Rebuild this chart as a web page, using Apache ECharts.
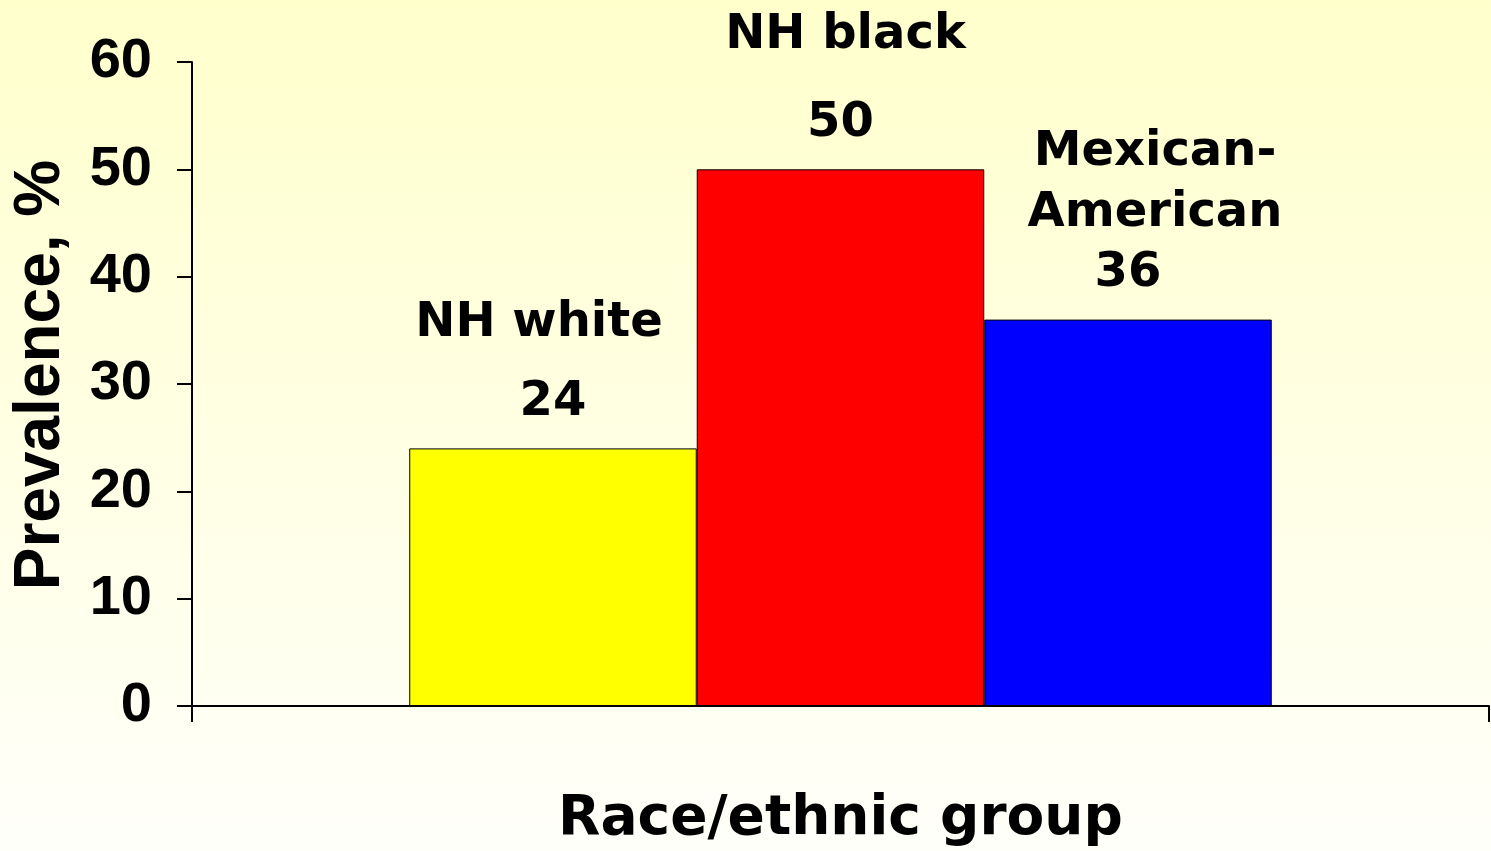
<!DOCTYPE html>
<html>
<head>
<meta charset="utf-8">
<script src="https://cdn.jsdelivr.net/npm/echarts@6/dist/echarts.min.js"></script>
<style>
html,body{margin:0;padding:0;}
#chart{width:1491px;height:851px;}
</style>
</head>
<body>
<div id="chart"></div>
<script>
var categories = ['Race/ethnic group'];
var seriesNames = ['NH white', 'NH black', 'Mexican-\nAmerican'];
var seriesValues = [[24], [50], [36]];
var seriesColors = ['#FFFF00', '#FF0000', '#0000FF'];
var yTicks = [0, 10, 20, 30, 40, 50, 60];

var labelFont = 'DejaVu Sans';
var tickFont = "'Liberation Sans', Arial, sans-serif";

// per-series label tweaks: [name lineHeight, name padding]
var labelTweaks = [
  {lh: 98, pad: [0, 28, 0, 0]},
  {lh: 116, pad: [0, 0, 0, 10]},
  {lh: 61, pad: [0, 0, 0, 54]}
];

var chart = echarts.init(document.getElementById('chart'));
var series = seriesNames.map(function (name, i) {
  return {
    name: name,
    type: 'bar',
    data: seriesValues[i],
    barGap: '0%',
    barCategoryGap: '33.5%',
    itemStyle: {color: seriesColors[i], borderColor: '#000', borderWidth: 1},
    label: {
      show: true,
      position: 'top',
      distance: 16,
      formatter: function (p) {
        return p.seriesName.split('\n').map(function (s) { return '{n|' + s + '}'; }).join('\n') + '\n{v|' + p.value + '}';
      },
      rich: {
        n: {fontFamily: labelFont, fontWeight: 'bold', fontSize: 48, color: '#000', lineHeight: labelTweaks[i].lh, padding: labelTweaks[i].pad},
        v: {fontFamily: labelFont, fontWeight: 'bold', fontSize: 48, color: '#000', lineHeight: 60}
      }
    }
  };
});

chart.setOption({
  backgroundColor: new echarts.graphic.LinearGradient(0, 0, 0, 1, [
    {offset: 0, color: '#FFFFCC'},
    {offset: 1, color: '#FFFFFA'}
  ]),
  animation: false,
  grid: {left: 192, right: 2, top: 62, bottom: 145, containLabel: false, outerBoundsMode: 'none'},
  xAxis: {
    type: 'category',
    data: categories,
    boundaryGap: true,
    name: categories[0],
    nameLocation: 'middle',
    nameGap: 86,
    nameTextStyle: {fontFamily: labelFont, fontWeight: 'bold', fontSize: 55, color: '#000'},
    axisLine: {lineStyle: {color: '#000', width: 2}},
    axisTick: {show: true, length: 16, lineStyle: {color: '#000', width: 2}},
    axisLabel: {show: false},
    splitLine: {show: false}
  },
  yAxis: {
    type: 'value',
    min: yTicks[0],
    max: yTicks[yTicks.length - 1],
    interval: 10,
    name: 'Prevalence, %',
    nameLocation: 'middle',
    nameRotate: 90,
    nameGap: 119,
    nameTextStyle: {fontFamily: "'Liberation Sans', Arial, sans-serif", fontWeight: 'bold', fontSize: 64, color: '#000', padding: [0, 0, 0, 18]},
    axisLine: {show: true, lineStyle: {color: '#000', width: 2}},
    axisTick: {show: true, length: 15, lineStyle: {color: '#000', width: 2}},
    axisLabel: {fontFamily: tickFont, fontWeight: 'bold', fontSize: 56, color: '#000', margin: 40},
    splitLine: {show: false}
  },
  series: series
});
</script>
</body>
</html>
